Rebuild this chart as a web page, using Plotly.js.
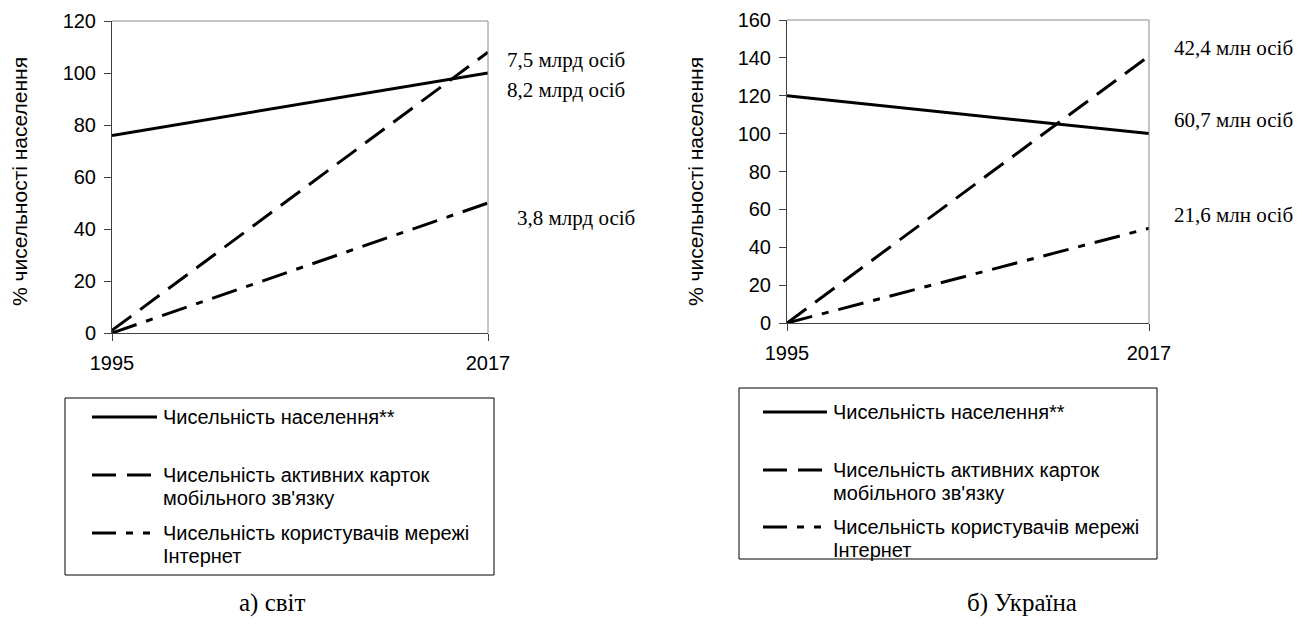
<!DOCTYPE html>
<html>
<head>
<meta charset="utf-8">
<script src="https://cdn.plot.ly/plotly-3.0.1.min.js"></script>
<style>html,body{margin:0;padding:0;background:#fff;}#chart{width:1309px;height:632px;}</style>
</head>
<body>
<div id="chart"></div>
<script>
// ---- data ----
const years = [1995, 2017];
const yearLabels = ["1995", "2017"];
const seriesNames = [
  "Чисельність населення**",
  "Чисельність активних карток<br>мобільного зв'язку",
  "Чисельність користувачів мережі<br>Інтернет"
];
const worldPopulation = [76, 100];
const worldMobile = [1, 108];
const worldInternet = [0, 50];
const uaPopulation = [120, 100];
const uaMobile = [0, 141];
const uaInternet = [0, 50];
const worldLabels = ["7,5 млрд осіб", "8,2 млрд осіб", "3,8 млрд осіб"];
const uaLabels = ["42,4 млн осіб", "60,7 млн осіб", "21,6 млн осіб"];
const worldTicks = [0, 20, 40, 60, 80, 100, 120];
const uaTicks = [0, 20, 40, 60, 80, 100, 120, 140, 160];
const yTitle = "% чисельності населення";
const captions = ["а) світ", "б) Україна"];

// ---- styling ----
const W = 1309, H = 632;
const px = x => x / W;
const py = y => 1 - y / H;
const SANS = "Liberation Sans, Arial, sans-serif";
const SERIF = "Liberation Serif, Times New Roman, serif";
const lineDashes = ["solid", "24px,11px", "26px,10px,7px,10px"];
const legendDashes = ["solid", "24px,11px", "24px,10px,7px,10px,7px,10px"];

const traces = [];
function addSeries(vals, i, xa, ya) {
  traces.push({
    x: years, y: vals, type: "scatter", mode: "lines",
    name: seriesNames[i].replace("<br>", " "),
    line: {color: "#000", width: 3, dash: lineDashes[i]},
    xaxis: xa, yaxis: ya, showlegend: false, hoverinfo: "skip"
  });
}
[worldPopulation, worldMobile, worldInternet].forEach((v, i) => addSeries(v, i, "x", "y"));
[uaPopulation, uaMobile, uaInternet].forEach((v, i) => addSeries(v, i, "x2", "y2"));

function xAxis(dom, anchor) {
  return {
    domain: dom, anchor: anchor, range: [years[0], years[years.length - 1]],
    tickvals: years, ticktext: yearLabels,
    showline: true, linecolor: "#404040", linewidth: 1,
    ticks: "outside", ticklen: 7, tickcolor: "#404040",
    showgrid: false, zeroline: false, fixedrange: true,
    tickfont: {family: SANS, size: 20, color: "#000"}, ticklabelstandoff: 5
  };
}
function yAxis(dom, anchor, ticks) {
  return {
    domain: dom, anchor: anchor, range: [ticks[0], ticks[ticks.length - 1]],
    tickvals: ticks,
    showline: true, linecolor: "#404040", linewidth: 1,
    ticks: "outside", ticklen: 7, tickcolor: "#404040",
    showgrid: false, zeroline: false, fixedrange: true,
    tickfont: {family: SANS, size: 20, color: "#000"}, ticklabelstandoff: 4
  };
}

const shapes = [];
const annotations = [];

// top & right gray borders of each plot area
[["x", "y"], ["x2", "y2"]].forEach(([xa, ya]) => {
  shapes.push({type: "line", xref: xa + " domain", yref: ya + " domain", x0: 0, x1: 1, y0: 1, y1: 1, line: {color: "#8c8c8c", width: 1}});
  shapes.push({type: "line", xref: xa + " domain", yref: ya + " domain", x0: 1, x1: 1, y0: 0, y1: 1, line: {color: "#8c8c8c", width: 1}});
});

// y titles
[[19, 182], [695, 182]].forEach(([x, y]) => {
  annotations.push({xref: "paper", yref: "paper", x: px(x), y: py(y), text: yTitle, showarrow: false,
    textangle: -90, xanchor: "center", yanchor: "middle", font: {family: SANS, size: 21, color: "#000"}});
});

// end labels
const worldLabelPos = [[505, 60], [505, 90], [515, 218]];
const uaLabelPos = [[1172, 48], [1172, 120], [1172, 215]];
function endLabels(labels, pos) {
  labels.forEach((t, i) => {
    annotations.push({xref: "paper", yref: "paper", x: px(pos[i][0]), y: py(pos[i][1]), text: t, showarrow: false,
      xanchor: "left", yanchor: "middle", font: {family: SERIF, size: 21, color: "#000"}});
  });
}
endLabels(worldLabels, worldLabelPos);
endLabels(uaLabels, uaLabelPos);

// custom legends
function legend(box, rows, sx0, sx1, tx) {
  shapes.push({type: "rect", xref: "paper", yref: "paper", x0: px(box[0]), x1: px(box[1]), y0: py(box[3]), y1: py(box[2]),
    line: {color: "#000", width: 1}, fillcolor: "rgba(0,0,0,0)"});
  seriesNames.forEach((name, i) => {
    const ry = rows[i];
    shapes.push({type: "line", xref: "paper", yref: "paper", x0: px(sx0), x1: px(sx1), y0: py(ry), y1: py(ry),
      line: {color: "#000", width: 3, dash: legendDashes[i]}});
    name.split("<br>").forEach((ln, j) => {
      annotations.push({xref: "paper", yref: "paper", x: px(tx), y: py(ry + j * 23), text: ln, showarrow: false,
        xanchor: "left", yanchor: "middle", font: {family: SANS, size: 20, color: "#000"}});
    });
  });
}
legend([65, 494, 398, 575], [417, 475, 533], 92, 157, 161);
legend([739, 1157, 388, 559], [412, 470, 527], 763, 827, 831);

// captions
[[272, 603], [1022, 603]].forEach(([x, y], i) => {
  annotations.push({xref: "paper", yref: "paper", x: px(x), y: py(y), text: captions[i], showarrow: false,
    xanchor: "center", yanchor: "middle", font: {family: SERIF, size: 25, color: "#000"}});
});

const layout = {
  width: W, height: H,
  margin: {l: 0, r: 0, t: 0, b: 0},
  paper_bgcolor: "#fff", plot_bgcolor: "#fff",
  showlegend: false,
  xaxis: xAxis([px(112), px(488)], "y"),
  yaxis: yAxis([py(333), py(21)], "x", worldTicks),
  xaxis2: xAxis([px(787), px(1149)], "y2"),
  yaxis2: yAxis([py(323), py(20)], "x2", uaTicks),
  shapes: shapes,
  annotations: annotations
};

Plotly.newPlot("chart", traces, layout, {staticPlot: true, displayModeBar: false});
</script>
</body>
</html>
